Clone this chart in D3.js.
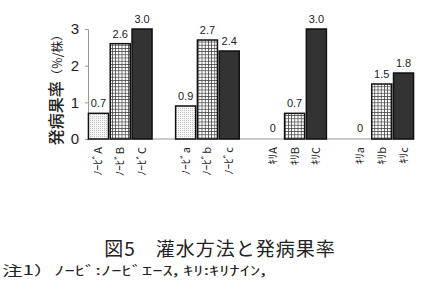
<!DOCTYPE html>
<html>
<head>
<meta charset="utf-8">
<script src="https://cdn.jsdelivr.net/npm/d3@7"></script>
<style>
  body { margin: 0; background: #fff; }
  svg { display: block; }
  .tick text { font-family: "Liberation Sans", Arial, sans-serif; }
</style>
</head>
<body>
<svg id="chart" width="427" height="297"></svg>
<script>
// Chart data
const categories = ['ﾉｰﾋﾞA', 'ﾉｰﾋﾞB', 'ﾉｰﾋﾞC', '_g1', 'ﾉｰﾋﾞa', 'ﾉｰﾋﾞb', 'ﾉｰﾋﾞc', '_g2',
  'ｷﾘA', 'ｷﾘB', 'ｷﾘC', '_g3', 'ｷﾘa', 'ｷﾘb', 'ｷﾘc'];
const values = [0.7, 2.6, 3.0, null, 0.9, 2.7, 2.4, null, 0, 0.7, 3.0, null, 0, 1.5, 1.8];
const valueLabels = ['0.7', '2.6', '3.0', '', '0.9', '2.7', '2.4', '', '0', '0.7', '3.0', '', '0', '1.5', '1.8'];
const fillKinds = ['dot', 'grid', 'dark', null, 'dot', 'grid', 'dark', null,
  'dot', 'grid', 'dark', null, 'dot', 'grid', 'dark'];
const yTicks = [0, 1, 2, 3];

const svg = d3.select('#chart');
const jp = '"Noto Sans CJK JP", sans-serif';

// Patterns for the bar fills
const defs = svg.append('defs');
const dot = defs.append('pattern')
  .attr('id', 'dot').attr('patternUnits', 'userSpaceOnUse')
  .attr('width', 2).attr('height', 2);
dot.append('rect').attr('width', 2).attr('height', 2).attr('fill', '#f6f6f6');
dot.append('rect').attr('width', 1).attr('height', 1).attr('fill', '#c4c4c4');

const grid = defs.append('pattern')
  .attr('id', 'grid').attr('patternUnits', 'userSpaceOnUse')
  .attr('width', 3.2).attr('height', 3.2);
grid.append('rect').attr('width', 3.2).attr('height', 3.2).attr('fill', '#fff');
grid.append('path').attr('d', 'M0,0.4H3.2M0.4,0V3.2')
  .attr('stroke', '#444').attr('stroke-width', 0.75);

const fills = { dot: 'url(#dot)', grid: 'url(#grid)', dark: '#333' };

// Scales
const x = d3.scaleBand().domain(categories).range([88, 414]).paddingInner(0.08).paddingOuter(0.02);
const y = d3.scaleLinear().domain([0, 3]).range([139, 29]);

// Y axis
const yAxis = svg.append('g')
  .attr('transform', 'translate(88,0)')
  .call(d3.axisLeft(y).tickValues(yTicks).tickFormat(d3.format('d')).tickSize(3).tickPadding(6));
yAxis.selectAll('line').attr('stroke', '#999');
yAxis.select('.domain').attr('stroke', '#999');
yAxis.selectAll('text').attr('font-size', 15).attr('fill', '#222');

// X baseline
svg.append('line')
  .attr('x1', 88).attr('x2', 414)
  .attr('y1', y(0)).attr('y2', y(0))
  .attr('stroke', '#999');

// Bars
const data = categories.map((c, i) => ({ c, v: values[i], label: valueLabels[i], kind: fillKinds[i] }))
  .filter(d => d.v !== null);

svg.append('g').selectAll('rect')
  .data(data.filter(d => d.v > 0))
  .join('rect')
  .attr('x', d => x(d.c))
  .attr('y', d => y(d.v))
  .attr('width', x.bandwidth())
  .attr('height', d => y(0) - y(d.v))
  .attr('fill', d => fills[d.kind])
  .attr('stroke', '#111')
  .attr('stroke-width', 1.5);

// Value labels
svg.append('g').selectAll('text')
  .data(data)
  .join('text')
  .attr('x', d => x(d.c) + x.bandwidth() / 2)
  .attr('y', d => y(d.v) - (d.v > 0 ? 6 : 7))
  .attr('text-anchor', 'middle')
  .attr('font-family', '"Liberation Sans", Arial, sans-serif')
  .attr('font-size', 11)
  .attr('fill', '#222')
  .text(d => d.label);

// Category labels, rotated
svg.append('g').selectAll('text')
  .data(data)
  .join('text')
  .attr('transform', d => `translate(${x(d.c) + x.bandwidth() / 2 + 4},${y(0) + 8}) rotate(-90)`)
  .attr('text-anchor', 'end')
  .attr('font-family', jp)
  .attr('font-size', 11)
  .attr('fill', '#222')
  .text(d => d.c);

// Y axis title
const yt = svg.append('text')
  .attr('transform', 'translate(62,87) rotate(-90)')
  .attr('text-anchor', 'middle')
  .attr('font-family', jp)
  .attr('font-weight', 500)
  .attr('fill', '#222');
yt.append('tspan').attr('font-size', 16).text('発病果率');
yt.append('tspan').attr('font-size', 12).attr('font-weight', 'normal').text('（％/株）');

// Figure caption and note
svg.append('text')
  .attr('x', 220).attr('y', 256)
  .attr('text-anchor', 'middle')
  .attr('font-family', jp)
  .attr('font-size', 19)
  .attr('letter-spacing', 1)
  .attr('fill', '#222')
  .text('図5　灌水方法と発病果率');

svg.append('text')
  .attr('x', 2).attr('y', 275)
  .attr('font-family', jp)
  .attr('font-size', 13)
  .attr('textLength', 264)
  .attr('lengthAdjust', 'spacingAndGlyphs')
  .attr('fill', '#222')
  .text('注1）ﾉｰﾋﾞ:ﾉｰﾋﾞｴｰｽ, ｷﾘ:ｷﾘﾅｲﾝ,');
</script>
</body>
</html>
